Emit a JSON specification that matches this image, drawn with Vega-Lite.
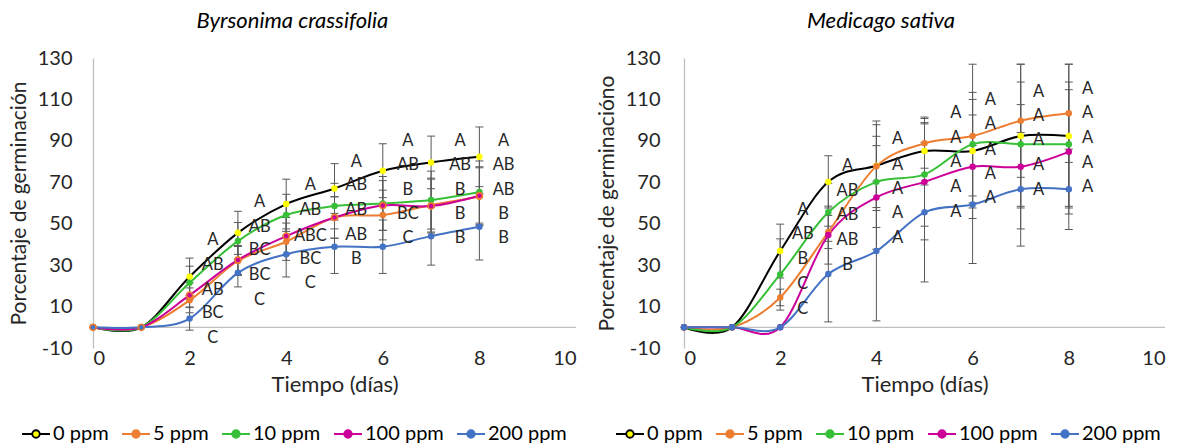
{
  "$schema": "https://vega.github.io/schema/vega-lite/v6.json",
  "padding": {"left": 8, "top": 10, "right": 5, "bottom": 5},
  "spacing": 19,
  "background": "white",
  "config": {
    "font": "Lato",
    "view": {"stroke": null},
    "title": {"font": "Lato", "fontSize": 22, "fontStyle": "italic", "fontWeight": "normal", "color": "#000000", "offset": 15, "frame": "bounds"},
    "axis": {"labelFont": "Lato", "labelFontSize": 20, "labelColor": "#262626", "titleFont": "Lato", "titleFontSize": 21, "titleFontWeight": "normal", "titleColor": "#262626", "gridColor": "#BFBFBF", "gridWidth": 1.3, "domainColor": "#BFBFBF", "domainWidth": 1.3, "ticks": false},
    "legend": {"orient": "none", "direction": "horizontal", "title": null, "labelFont": "Lato", "labelFontSize": 20, "labelColor": "#000000", "symbolType": "M-1,0H-0.27M0.27,0H1M-0.27,0A0.27,0.27 0 1 1 0.27,0A0.27,0.27 0 1 1 -0.27,0Z", "symbolSize": 780, "symbolStrokeWidth": 1.8, "columnPadding": 9, "labelOffset": 2}
  },
  "datasets": {
    "byr": [
      {"s": "0 ppm", "t": 0, "p": 0, "lo": null, "hi": null},
      {"s": "0 ppm", "t": 1, "p": 0, "lo": null, "hi": null},
      {"s": "0 ppm", "t": 2, "p": 24.4, "lo": 15.4, "hi": 33.4},
      {"s": "0 ppm", "t": 3, "p": 45.6, "lo": 35.2, "hi": 56},
      {"s": "0 ppm", "t": 4, "p": 59.5, "lo": 47.5, "hi": 71.5},
      {"s": "0 ppm", "t": 5, "p": 67, "lo": 55, "hi": 79},
      {"s": "0 ppm", "t": 6, "p": 75.6, "lo": 62.6, "hi": 88.6},
      {"s": "0 ppm", "t": 7, "p": 79.6, "lo": 66.9, "hi": 92.3},
      {"s": "0 ppm", "t": 8, "p": 82.3, "lo": 67.9, "hi": 96.7},
      {"s": "5 ppm", "t": 0, "p": 0, "lo": null, "hi": null},
      {"s": "5 ppm", "t": 1, "p": 0, "lo": null, "hi": null},
      {"s": "5 ppm", "t": 2, "p": 13, "lo": 7, "hi": 19},
      {"s": "5 ppm", "t": 3, "p": 32, "lo": 25, "hi": 39},
      {"s": "5 ppm", "t": 4, "p": 41.3, "lo": 32.3, "hi": 50.3},
      {"s": "5 ppm", "t": 5, "p": 53, "lo": 43, "hi": 63},
      {"s": "5 ppm", "t": 6, "p": 54.2, "lo": 42.2, "hi": 66.2},
      {"s": "5 ppm", "t": 7, "p": 59, "lo": 46, "hi": 72},
      {"s": "5 ppm", "t": 8, "p": 63, "lo": 49, "hi": 77},
      {"s": "10 ppm", "t": 0, "p": 0, "lo": null, "hi": null},
      {"s": "10 ppm", "t": 1, "p": 0, "lo": null, "hi": null},
      {"s": "10 ppm", "t": 2, "p": 21.5, "lo": 13.5, "hi": 29.5},
      {"s": "10 ppm", "t": 3, "p": 41.6, "lo": 32.6, "hi": 50.6},
      {"s": "10 ppm", "t": 4, "p": 54.2, "lo": 44.2, "hi": 64.2},
      {"s": "10 ppm", "t": 5, "p": 58.5, "lo": 47.5, "hi": 69.5},
      {"s": "10 ppm", "t": 6, "p": 59.8, "lo": 46.8, "hi": 72.8},
      {"s": "10 ppm", "t": 7, "p": 61.4, "lo": 47.4, "hi": 75.4},
      {"s": "10 ppm", "t": 8, "p": 65.3, "lo": 50.3, "hi": 80.3},
      {"s": "100 ppm", "t": 0, "p": 0, "lo": null, "hi": null},
      {"s": "100 ppm", "t": 1, "p": 0, "lo": null, "hi": null},
      {"s": "100 ppm", "t": 2, "p": 15.5, "lo": 9.5, "hi": 21.5},
      {"s": "100 ppm", "t": 3, "p": 32.5, "lo": 25.5, "hi": 39.5},
      {"s": "100 ppm", "t": 4, "p": 44, "lo": 35, "hi": 53},
      {"s": "100 ppm", "t": 5, "p": 53, "lo": 43, "hi": 63},
      {"s": "100 ppm", "t": 6, "p": 58.8, "lo": 46.8, "hi": 70.8},
      {"s": "100 ppm", "t": 7, "p": 58.5, "lo": 45.5, "hi": 71.5},
      {"s": "100 ppm", "t": 8, "p": 63.5, "lo": 49.5, "hi": 77.5},
      {"s": "200 ppm", "t": 0, "p": 0, "lo": null, "hi": null},
      {"s": "200 ppm", "t": 1, "p": 0, "lo": null, "hi": null},
      {"s": "200 ppm", "t": 2, "p": 4.2, "lo": -1.4, "hi": 9.8},
      {"s": "200 ppm", "t": 3, "p": 26.3, "lo": 19.5, "hi": 33.1},
      {"s": "200 ppm", "t": 4, "p": 35.3, "lo": 24.3, "hi": 46.3},
      {"s": "200 ppm", "t": 5, "p": 38.9, "lo": 26, "hi": 51.8},
      {"s": "200 ppm", "t": 6, "p": 38.9, "lo": 26, "hi": 51.8},
      {"s": "200 ppm", "t": 7, "p": 44, "lo": 30, "hi": 58},
      {"s": "200 ppm", "t": 8, "p": 48.5, "lo": 32.5, "hi": 64.5}
    ],
    "med": [
      {"s": "0 ppm", "t": 0, "p": 0, "lo": null, "hi": null},
      {"s": "0 ppm", "t": 1, "p": 0, "lo": null, "hi": null},
      {"s": "0 ppm", "t": 2, "p": 36.8, "lo": 23.8, "hi": 49.8},
      {"s": "0 ppm", "t": 3, "p": 70.2, "lo": 57.6, "hi": 82.8},
      {"s": "0 ppm", "t": 4, "p": 78, "lo": 56.4, "hi": 99.6},
      {"s": "0 ppm", "t": 5, "p": 85.1, "lo": 68.7, "hi": 101.5},
      {"s": "0 ppm", "t": 6, "p": 85.1, "lo": 60, "hi": 110},
      {"s": "0 ppm", "t": 7, "p": 92.3, "lo": 57.6, "hi": 127},
      {"s": "0 ppm", "t": 8, "p": 92.3, "lo": 57.6, "hi": 127},
      {"s": "5 ppm", "t": 0, "p": 0, "lo": null, "hi": null},
      {"s": "5 ppm", "t": 1, "p": 0, "lo": null, "hi": null},
      {"s": "5 ppm", "t": 2, "p": 14.4, "lo": 10.4, "hi": 18.4},
      {"s": "5 ppm", "t": 3, "p": 46, "lo": 38, "hi": 54},
      {"s": "5 ppm", "t": 4, "p": 77.8, "lo": 57.8, "hi": 97.8},
      {"s": "5 ppm", "t": 5, "p": 88.8, "lo": 76.8, "hi": 100.8},
      {"s": "5 ppm", "t": 6, "p": 92.3, "lo": 57.6, "hi": 127},
      {"s": "5 ppm", "t": 7, "p": 99.7, "lo": 72.4, "hi": 127},
      {"s": "5 ppm", "t": 8, "p": 103.3, "lo": 79.6, "hi": 127},
      {"s": "10 ppm", "t": 0, "p": 0, "lo": null, "hi": null},
      {"s": "10 ppm", "t": 1, "p": 0, "lo": null, "hi": null},
      {"s": "10 ppm", "t": 2, "p": 25.5, "lo": 8.3, "hi": 42.7},
      {"s": "10 ppm", "t": 3, "p": 55.5, "lo": 41.5, "hi": 69.5},
      {"s": "10 ppm", "t": 4, "p": 70.2, "lo": 48.2, "hi": 92.2},
      {"s": "10 ppm", "t": 5, "p": 73.8, "lo": 48.8, "hi": 98.8},
      {"s": "10 ppm", "t": 6, "p": 88.4, "lo": 63.4, "hi": 113.4},
      {"s": "10 ppm", "t": 7, "p": 88.4, "lo": 58.4, "hi": 118.4},
      {"s": "10 ppm", "t": 8, "p": 88.4, "lo": 58.4, "hi": 118.4},
      {"s": "100 ppm", "t": 0, "p": 0, "lo": null, "hi": null},
      {"s": "100 ppm", "t": 1, "p": 0, "lo": null, "hi": null},
      {"s": "100 ppm", "t": 2, "p": 0, "lo": null, "hi": null},
      {"s": "100 ppm", "t": 3, "p": 44.5, "lo": 30.5, "hi": 58.5},
      {"s": "100 ppm", "t": 4, "p": 62.7, "lo": 37.7, "hi": 87.7},
      {"s": "100 ppm", "t": 5, "p": 70.2, "lo": 42.2, "hi": 98.2},
      {"s": "100 ppm", "t": 6, "p": 77.5, "lo": 52.5, "hi": 102.5},
      {"s": "100 ppm", "t": 7, "p": 77.5, "lo": 47.5, "hi": 107.5},
      {"s": "100 ppm", "t": 8, "p": 84.7, "lo": 54.7, "hi": 114.7},
      {"s": "200 ppm", "t": 0, "p": 0, "lo": null, "hi": null},
      {"s": "200 ppm", "t": 1, "p": 0, "lo": null, "hi": null},
      {"s": "200 ppm", "t": 2, "p": 0, "lo": null, "hi": null},
      {"s": "200 ppm", "t": 3, "p": 25.7, "lo": 2.6, "hi": 48.8},
      {"s": "200 ppm", "t": 4, "p": 36.8, "lo": 3.1, "hi": 70.5},
      {"s": "200 ppm", "t": 5, "p": 55.5, "lo": 21.9, "hi": 89.1},
      {"s": "200 ppm", "t": 6, "p": 59.3, "lo": 30.8, "hi": 87.8},
      {"s": "200 ppm", "t": 7, "p": 66.6, "lo": 39.2, "hi": 94},
      {"s": "200 ppm", "t": 8, "p": 66.6, "lo": 47.2, "hi": 86}
    ],
    "byrL": [
      {"t": 2.48, "v": 42, "txt": "A"}, {"t": 2.48, "v": 30, "txt": "AB"}, {"t": 2.48, "v": 17.9, "txt": "AB"}, {"t": 2.48, "v": 6.7, "txt": "BC"}, {"t": 2.48, "v": -5.4, "txt": "C"},
      {"t": 3.45, "v": 60.6, "txt": "A"}, {"t": 3.45, "v": 48.5, "txt": "AB"}, {"t": 3.45, "v": 37.2, "txt": "BC"}, {"t": 3.45, "v": 25.2, "txt": "BC"}, {"t": 3.45, "v": 13, "txt": "C"},
      {"t": 4.5, "v": 68.6, "txt": "A"}, {"t": 4.5, "v": 56.6, "txt": "AB"}, {"t": 4.5, "v": 44, "txt": "ABC"}, {"t": 4.5, "v": 33.2, "txt": "BC"}, {"t": 4.5, "v": 21.2, "txt": "C"},
      {"t": 5.45, "v": 79.9, "txt": "A"}, {"t": 5.45, "v": 68.6, "txt": "AB"}, {"t": 5.45, "v": 56.6, "txt": "AB"}, {"t": 5.45, "v": 44.5, "txt": "AB"}, {"t": 5.45, "v": 33.2, "txt": "B"},
      {"t": 6.52, "v": 90, "txt": "A"}, {"t": 6.52, "v": 78.3, "txt": "AB"}, {"t": 6.52, "v": 66.2, "txt": "B"}, {"t": 6.52, "v": 54.5, "txt": "BC"}, {"t": 6.52, "v": 42.9, "txt": "C"},
      {"t": 7.6, "v": 90, "txt": "A"}, {"t": 7.6, "v": 78.3, "txt": "AB"}, {"t": 7.6, "v": 66.2, "txt": "B"}, {"t": 7.6, "v": 54.5, "txt": "B"}, {"t": 7.6, "v": 42.9, "txt": "B"},
      {"t": 8.5, "v": 90, "txt": "A"}, {"t": 8.5, "v": 78.3, "txt": "AB"}, {"t": 8.5, "v": 66.2, "txt": "AB"}, {"t": 8.5, "v": 54.5, "txt": "B"}, {"t": 8.5, "v": 42.9, "txt": "B"}
    ],
    "medL": [
      {"t": 2.47, "v": 56.6, "txt": "A"}, {"t": 2.47, "v": 44.8, "txt": "AB"}, {"t": 2.47, "v": 32.8, "txt": "B"}, {"t": 2.47, "v": 20.7, "txt": "C"}, {"t": 2.47, "v": 9, "txt": "C"},
      {"t": 3.4, "v": 77.8, "txt": "A"}, {"t": 3.4, "v": 65.9, "txt": "AB"}, {"t": 3.4, "v": 54.2, "txt": "AB"}, {"t": 3.4, "v": 42.1, "txt": "AB"}, {"t": 3.4, "v": 30, "txt": "B"},
      {"t": 4.44, "v": 90.7, "txt": "A"}, {"t": 4.44, "v": 78.3, "txt": "A"}, {"t": 4.44, "v": 66.6, "txt": "A"}, {"t": 4.44, "v": 55, "txt": "A"}, {"t": 4.44, "v": 42.9, "txt": "A"},
      {"t": 5.65, "v": 103.3, "txt": "A"}, {"t": 5.65, "v": 91.5, "txt": "A"}, {"t": 5.65, "v": 79.9, "txt": "A"}, {"t": 5.65, "v": 67.8, "txt": "A"}, {"t": 5.65, "v": 55.8, "txt": "A"},
      {"t": 6.37, "v": 109.7, "txt": "A"}, {"t": 6.37, "v": 98.1, "txt": "A"}, {"t": 6.37, "v": 85.6, "txt": "A"}, {"t": 6.37, "v": 74, "txt": "A"}, {"t": 6.37, "v": 62.2, "txt": "A"},
      {"t": 7.37, "v": 113.7, "txt": "A"}, {"t": 7.37, "v": 102.1, "txt": "A"}, {"t": 7.37, "v": 90.4, "txt": "A"}, {"t": 7.37, "v": 78.3, "txt": "A"}, {"t": 7.37, "v": 66.2, "txt": "A"},
      {"t": 8.39, "v": 114.9, "txt": "A"}, {"t": 8.39, "v": 103.3, "txt": "A"}, {"t": 8.39, "v": 91.5, "txt": "A"}, {"t": 8.39, "v": 79.4, "txt": "A"}, {"t": 8.39, "v": 67.8, "txt": "A"}
    ]
  },
  "resolve": {"scale": {"x": "independent", "y": "independent", "stroke": "independent", "fill": "independent"}, "legend": {"stroke": "independent", "fill": "independent"}},
  "hconcat": [
    {
      "width": 483, "height": 290,
      "title": {"text": "Byrsonima crassifolia"},
      "data": {"name": "byr"},
      "layer": [
        {"data": {"values": [{"k": 0}]}, "mark": {"type": "rule", "color": "#BFBFBF", "strokeWidth": 1.3}, "encoding": {"y": {"datum": 0, "type": "quantitative"}}},
        {"mark": {"type": "rule", "color": "#595959", "strokeWidth": 1}, "encoding": {"x": {"field": "t", "type": "quantitative"}, "y": {"field": "lo", "type": "quantitative"}, "y2": {"field": "hi"}}},
        {"mark": {"type": "tick", "orient": "horizontal", "color": "#595959", "size": 8, "thickness": 1, "opacity": 1}, "encoding": {"x": {"field": "t", "type": "quantitative"}, "y": {"field": "lo", "type": "quantitative"}}},
        {"mark": {"type": "tick", "orient": "horizontal", "color": "#595959", "size": 8, "thickness": 1, "opacity": 1}, "encoding": {"x": {"field": "t", "type": "quantitative"}, "y": {"field": "hi", "type": "quantitative"}}},
        {"mark": {"type": "line", "interpolate": "cardinal", "strokeWidth": 2},
         "encoding": {
           "x": {"field": "t", "type": "quantitative", "scale": {"domain": [0, 10]}, "axis": {"values": [0, 2, 4, 6, 8, 10], "title": "Tiempo (días)", "titleFontSize": 22, "grid": false, "domain": false, "labelPadding": 0, "titlePadding": 6}},
           "y": {"field": "p", "type": "quantitative", "scale": {"domain": [-10, 130]}, "axis": {"values": [-10, 10, 30, 50, 70, 90, 110, 130], "labelExpr": "'' + datum.value", "title": "Porcentaje de germinación", "labelPadding": 21, "titlePadding": 8}},
           "stroke": {"field": "s", "type": "nominal", "scale": {"domain": ["0 ppm", "5 ppm", "10 ppm", "100 ppm", "200 ppm"], "range": ["#000000", "#ED7D31", "#37C037", "#CC0099", "#4472C4"]}, "legend": {"legendX": -72, "legendY": 361}},
           "order": {"field": "t"}
         }},
        {"mark": {"type": "point", "filled": true, "size": 42, "opacity": 1, "strokeWidth": 0},
         "encoding": {
           "x": {"field": "t", "type": "quantitative"},
           "y": {"field": "p", "type": "quantitative"},
           "fill": {"field": "s", "type": "nominal", "scale": {"domain": ["0 ppm", "5 ppm", "10 ppm", "100 ppm", "200 ppm"], "range": ["#FFFF00", "#ED7D31", "#37C037", "#CC0099", "#4472C4"]}, "legend": {"legendX": -72, "legendY": 361}}
         }},
        {"transform": [{"filter": "datum.s === '100 ppm'"}], "mark": {"type": "point", "filled": false, "size": 38, "stroke": "#ED7D31", "strokeWidth": 1.6, "opacity": 1}, "encoding": {"x": {"field": "t", "type": "quantitative"}, "y": {"field": "p", "type": "quantitative"}}},
        {"data": {"name": "byrL"}, "mark": {"type": "text", "font": "Lato", "fontSize": 16.5, "color": "#262626", "align": "center", "baseline": "middle"}, "encoding": {"x": {"field": "t", "type": "quantitative"}, "y": {"field": "v", "type": "quantitative"}, "text": {"field": "txt"}}}
      ]
    },
    {
      "width": 481, "height": 290,
      "title": {"text": "Medicago sativa"},
      "data": {"name": "med"},
      "layer": [
        {"data": {"values": [{"k": 0}]}, "mark": {"type": "rule", "color": "#BFBFBF", "strokeWidth": 1.3}, "encoding": {"y": {"datum": 0, "type": "quantitative"}}},
        {"mark": {"type": "rule", "color": "#595959", "strokeWidth": 1}, "encoding": {"x": {"field": "t", "type": "quantitative"}, "y": {"field": "lo", "type": "quantitative"}, "y2": {"field": "hi"}}},
        {"mark": {"type": "tick", "orient": "horizontal", "color": "#595959", "size": 8, "thickness": 1, "opacity": 1}, "encoding": {"x": {"field": "t", "type": "quantitative"}, "y": {"field": "lo", "type": "quantitative"}}},
        {"mark": {"type": "tick", "orient": "horizontal", "color": "#595959", "size": 8, "thickness": 1, "opacity": 1}, "encoding": {"x": {"field": "t", "type": "quantitative"}, "y": {"field": "hi", "type": "quantitative"}}},
        {"mark": {"type": "line", "interpolate": "cardinal", "strokeWidth": 2},
         "encoding": {
           "x": {"field": "t", "type": "quantitative", "scale": {"domain": [0, 10]}, "axis": {"values": [0, 2, 4, 6, 8, 10], "title": "Tiempo (días)", "titleFontSize": 22, "grid": false, "domain": false, "labelPadding": 0, "titlePadding": 6}},
           "y": {"field": "p", "type": "quantitative", "scale": {"domain": [-10, 130]}, "axis": {"values": [-10, 10, 30, 50, 70, 90, 110, 130], "labelExpr": "'' + datum.value", "title": "Porcentaje de germinacióno", "labelPadding": 24, "titlePadding": 8}},
           "stroke": {"field": "s", "type": "nominal", "scale": {"domain": ["0 ppm", "5 ppm", "10 ppm", "100 ppm", "200 ppm"], "range": ["#000000", "#ED7D31", "#37C037", "#CC0099", "#4472C4"]}, "legend": {"legendX": -69, "legendY": 361}},
           "order": {"field": "t"}
         }},
        {"mark": {"type": "point", "filled": true, "size": 42, "opacity": 1, "strokeWidth": 0},
         "encoding": {
           "x": {"field": "t", "type": "quantitative"},
           "y": {"field": "p", "type": "quantitative"},
           "fill": {"field": "s", "type": "nominal", "scale": {"domain": ["0 ppm", "5 ppm", "10 ppm", "100 ppm", "200 ppm"], "range": ["#FFFF00", "#ED7D31", "#37C037", "#CC0099", "#4472C4"]}, "legend": {"legendX": -69, "legendY": 361}}
         }},
        {"data": {"name": "medL"}, "mark": {"type": "text", "font": "Lato", "fontSize": 16.5, "color": "#262626", "align": "center", "baseline": "middle"}, "encoding": {"x": {"field": "t", "type": "quantitative"}, "y": {"field": "v", "type": "quantitative"}, "text": {"field": "txt"}}}
      ]
    }
  ]
}
